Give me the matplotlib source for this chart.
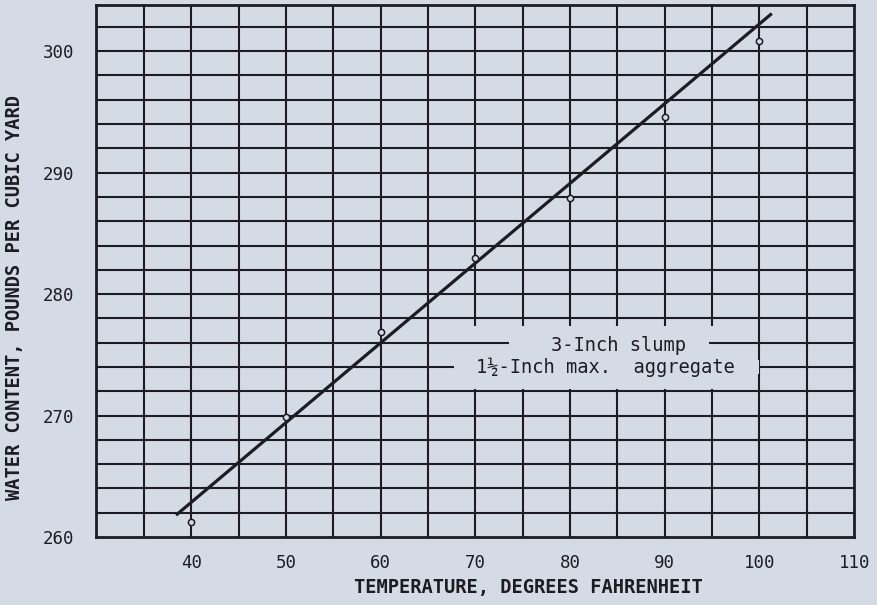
import numpy as np
import matplotlib
matplotlib.use('Agg')
import matplotlib.pyplot as plt
from matplotlib.patches import Rectangle

# measured points (temperature F, water content lb/cu yd)
temps = [40, 50, 60, 70, 80, 90, 100]
water = [261.2, 269.9, 276.9, 283.0, 287.9, 294.6, 300.8]

# fitted straight line drawn through the points
fit_temps = [38.4, 101.3]
fit_water = [261.8, 303.1]

x_ticks = [40, 50, 60, 70, 80, 90, 100, 110]
y_ticks = [260, 270, 280, 290, 300]

note_lines = ['3-Inch slump', '1½-Inch max.  aggregate']

BG = '#d5dbe5'
INK = '#1c1c24'
MONO = 'DejaVu Sans Mono'

fig = plt.figure(figsize=(8.77, 6.05), dpi=100, facecolor=BG)
ax = fig.add_axes([0.110, 0.1124, 0.864, 0.8793])
ax.set_facecolor(BG)
ax.set_xlim(30, 110)
ax.set_ylim(260, 303.8)

# grid: verticals under the note box, horizontals over it
for x in np.arange(35, 110, 5):
    ax.axvline(x, color=INK, lw=1.5, zorder=1)
for y in np.arange(262, 304, 2):
    ax.axhline(y, color=INK, lw=1.5, zorder=3)

# note box hides the vertical lines
ax.add_patch(Rectangle((68.4, 272.2), 30.0, 5.2, facecolor=BG, edgecolor='none', zorder=2))
# gaps in the horizontal lines behind the two text rows
ax.add_patch(Rectangle((73.6, 275.4), 21.1, 1.2, facecolor=BG, edgecolor='none', zorder=4))
ax.add_patch(Rectangle((67.7, 273.4), 32.2, 1.2, facecolor=BG, edgecolor='none', zorder=4))

ax.text(85.1, 275.8, note_lines[0], ha='center', va='center', family=MONO,
        fontsize=13.5, color=INK, zorder=5)
ax.text(83.7, 274.0, note_lines[1], ha='center', va='center', family=MONO,
        fontsize=13.5, color=INK, zorder=5)

ax.plot(fit_temps, fit_water, color=INK, lw=2.3, solid_capstyle='butt', zorder=6)
ax.plot(temps, water, 'o', ms=4.5, mfc=BG, mec=INK, mew=1.1, zorder=7)

for s in ax.spines.values():
    s.set_color(INK)
    s.set_linewidth(2)
    s.set_zorder(8)

ax.set_xticks(x_ticks)
ax.set_yticks(y_ticks)
ax.tick_params(length=0, colors=INK, labelsize=12.5)
ax.tick_params(axis='x', pad=12)
ax.tick_params(axis='y', pad=16)
for lab in ax.get_xticklabels() + ax.get_yticklabels():
    lab.set_family(MONO)

fig.text(528 / 877, 1 - 588 / 605, 'TEMPERATURE, DEGREES FAHRENHEIT', ha='center', va='center',
         family=MONO, fontweight='bold', fontsize=13.5, color=INK)
fig.text(15 / 877, 1 - 297 / 605, 'WATER CONTENT, POUNDS PER CUBIC YARD', ha='center', va='center',
         rotation=90, family=MONO, fontweight='bold', fontsize=13.5, color=INK)

fig.savefig('out.png', dpi=100, facecolor=BG)
